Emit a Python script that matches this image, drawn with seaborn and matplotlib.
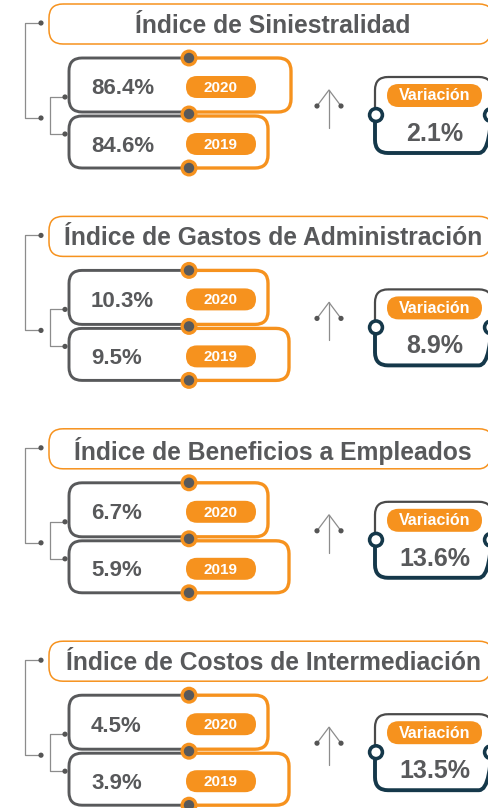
import matplotlib
matplotlib.use('Agg')
import matplotlib.pyplot as plt
import seaborn as sns
from matplotlib.patches import FancyBboxPatch, Circle, Rectangle

# chart data
titles = ['Índice de Siniestralidad', 'Índice de Gastos de Administración',
          'Índice de Beneficios a Empleados', 'Índice de Costos de Intermediación']
years = ['2020', '2019']
val_2020 = [86.4, 10.3, 6.7, 4.5]
val_2019 = [84.6, 9.5, 5.9, 3.9]
variacion = [2.1, 8.9, 13.6, 13.5]
var_label = 'Variación'

sns.set_theme(style='white')
plt.rcParams['font.family'] = ['Liberation Sans', 'DejaVu Sans']

ORANGE = '#F6921E'
GRAY = '#58595B'
LGRAY = '#8C8C8C'
NAVY = '#15384A'

fig = plt.figure(figsize=(4.89, 8.08), dpi=100)
ax = fig.add_axes([0, 0, 1, 1])
ax.set_xlim(0, 489)
ax.set_ylim(808, 0)
ax.axis('off')


def rbox(x0, y0, x1, y1, r, color, lw, clip=None, fill='none', z=2):
    p = FancyBboxPatch((x0, y0), x1 - x0, y1 - y0,
                       boxstyle=f'round,pad=0,rounding_size={r}',
                       ec=color, fc=fill, lw=lw, zorder=z)
    ax.add_patch(p)
    if clip is not None:
        cr = Rectangle((clip[0], clip[1]), clip[2] - clip[0], clip[3] - clip[1],
                       transform=ax.transData)
        p.set_clip_path(cr)
    return p


def dot(x, y, r, color, z=5):
    ax.add_patch(Circle((x, y), r, color=color, zorder=z, lw=0))


# right edge of the 2020 / 2019 boxes in each block
box_right = [(291, 268), (268, 289), (268, 289), (268, 289)]
step = 212.4

for i, title in enumerate(titles):
    oy = i * step

    # title frame
    rbox(49, oy + 4, 493, oy + 44, 14, ORANGE, 1.1)
    ax.text(273, oy + 26, title, ha='center', va='center', fontsize=17.7,
            fontweight='bold', color=GRAY)

    # brackets on the left
    ax.plot([41, 25, 25, 41], [oy + 23, oy + 23, oy + 118, oy + 118], color=LGRAY, lw=0.9, zorder=1)
    ax.plot([65, 50, 50, 65], [oy + 97, oy + 97, oy + 134, oy + 134], color=LGRAY, lw=0.9, zorder=1)
    for (bx, by) in [(41, 23), (41, 118), (65, 97), (65, 134)]:
        dot(bx, oy + by, 2.6, '#555555')

    # year boxes
    split = 189
    tops = [(oy + 58, oy + 112), (oy + 116, oy + 168)]
    vals = [val_2020[i], val_2019[i]]
    for k in range(2):
        y0, y1 = tops[k]
        right = box_right[i][k]
        rbox(69, y0, right, y1, 13, GRAY, 2.1, clip=(0, oy - 10, split, oy + 200), z=3)
        rbox(69, y0, right, y1, 13, ORANGE, 2.4, clip=(split, oy - 10, 489, oy + 200), z=3)
        cy = (y0 + y1) / 2 + 2
        ax.text(91, cy + 2, f'{vals[k]:.1f}%', ha='left', va='center', fontsize=16,
                fontweight='bold', color=GRAY, zorder=6)
        rbox(186, cy - 11, 256, cy + 11, 11, ORANGE, 0, fill=ORANGE, z=4)
        ax.text(221, cy + 1, years[k], ha='center', va='center', fontsize=11,
                fontweight='bold', color='white', zorder=6)

    for yy in [58, 114, 168]:
        dot(split, oy + yy, 8.5, ORANGE, z=7)
        dot(split, oy + yy, 5.2, GRAY, z=8)

    # arrow
    ax.plot([329, 329], [oy + 128, oy + 90], color=LGRAY, lw=0.9, zorder=2)
    ax.plot([317, 329, 341], [oy + 106, oy + 90, oy + 106], color=LGRAY, lw=0.9, zorder=2)
    dot(317, oy + 106, 2.6, '#555555')
    dot(341, oy + 106, 2.6, '#555555')

    # variation box
    mid = oy + 115
    rbox(375, oy + 77, 492, oy + 153, 13, '#4A4A4A', 1.6, clip=(0, oy, 489, mid), z=3)
    rbox(375, oy + 77, 492, oy + 153, 13, NAVY, 2.8, clip=(0, mid, 489, oy + 200), z=3)
    for rx in [376, 491]:
        dot(rx, mid, 8.2, NAVY, z=7)
        dot(rx, mid, 4.6, 'white', z=8)
    rbox(387, oy + 84, 482, oy + 107, 11.5, ORANGE, 0, fill=ORANGE, z=4)
    ax.text(434.5, oy + 96, var_label, ha='center', va='center', fontsize=11.5,
            fontweight='bold', color='white', zorder=6)
    ax.text(435, oy + 134, f'{variacion[i]:.1f}%', ha='center', va='center', fontsize=18,
            fontweight='bold', color=GRAY, zorder=6)

fig.savefig('out.png', dpi=100, facecolor='white')
